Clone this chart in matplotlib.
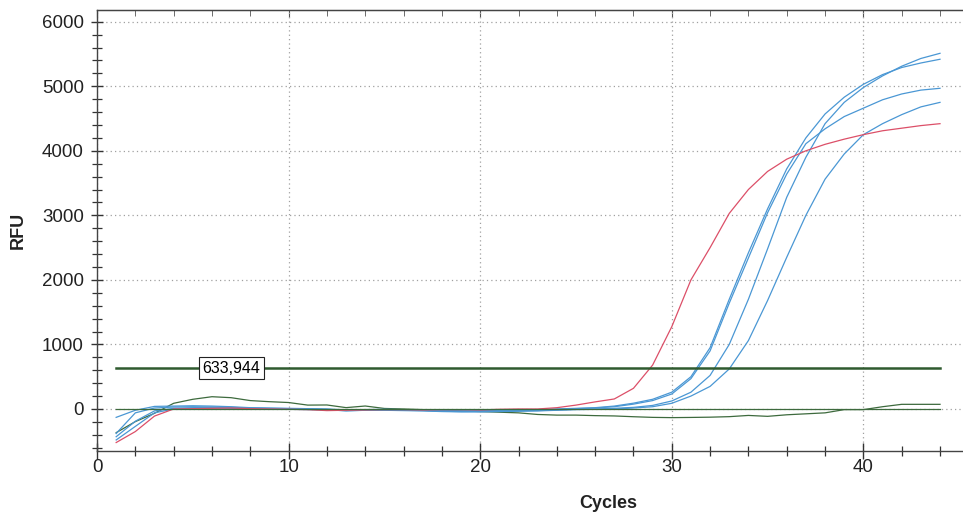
import matplotlib
matplotlib.use("Agg")
import matplotlib.pyplot as plt
from matplotlib.ticker import MultipleLocator

plt.rcParams['font.family'] = ['Liberation Sans', 'DejaVu Sans']

cycles = list(range(1, 45))

red = [-520, -350, -110, 0, 5, 10, 15, 5, 0, -5, -10, -25, -20, -15, -10, -10, -15, -10, -10, -15,
       -5, 0, 0, 20, 60, 110, 155, 320, 680, 1275, 2000, 2500, 3030, 3400, 3680, 3870, 4000, 4100,
       4180, 4250, 4310, 4350, 4390, 4420]

blue_a = [-130, -20, 40, 45, 50, 45, 35, 20, 15, 10, 5, 0, -15, -10, -5, -10, -15, -25, -30, -25,
          -20, -15, -10, 0, 10, 20, 45, 90, 150, 260, 500, 950, 1700, 2420, 3100, 3720, 4200, 4570,
          4830, 5030, 5180, 5290, 5360, 5418]

blue_b = [-380, -60, 15, 30, 35, 30, 25, 15, 10, 5, 0, -5, -20, -15, -10, -15, -20, -30, -35, -35,
          -30, -25, -15, -5, 5, 15, 35, 75, 130, 232, 470, 900, 1640, 2340, 3040, 3640, 4110, 4340,
          4530, 4660, 4790, 4880, 4940, 4968]

blue_c = [-430, -190, -30, 10, 20, 25, 20, 10, 5, 0, -5, -10, -30, -20, -15, -20, -25, -35, -40, -40,
          -35, -30, -25, -15, -5, 0, 10, 25, 55, 124, 260, 520, 1000, 1700, 2480, 3280, 3900, 4420,
          4750, 4980, 5160, 5310, 5430, 5510]

blue_d = [-480, -270, -60, 0, 10, 15, 10, 5, 0, -5, -10, -15, -25, -20, -20, -25, -30, -40, -45, -45,
          -40, -35, -30, -20, -10, -5, 0, 15, 35, 88, 200, 350, 620, 1060, 1680, 2350, 3000, 3560,
          3950, 4250, 4420, 4560, 4680, 4750]

green_a = [-367, -196, -67, 88, 150, 190, 175, 130, 113, 100, 60, 62, 21, 46, 8, 0, -10, -20, -30, -40,
           -50, -60, -85, -95, -95, -103, -108, -120, -130, -134, -131, -127, -119, -100, -114, -90,
           -75, -60, -10, -10, 35, 72, 72, 72]

green_b = [0, 0, 0, 0, 0, 0, 0, 0, 0, 0, 0, 0, 0, 0, 0, 0, 0, 0, 0, 0, 0, 0,
           0, 0, 0, 0, 0, 0, 0, 0, 0, 0, 0, 0, 0, 0, 0, 0, 0, 0, 0, 0, 0, 0]

threshold = 633.944
threshold_label = "633,944"

BLUE = '#4a97d4'
RED = '#dc4f68'
GREEN = '#3d6a3d'

fig = plt.figure(figsize=(9.63, 5.15), dpi=100)
ax = fig.add_axes([97/963, 64/515, 866/963, 441/515])

ax.set_xlim(0, 45.2)
ax.set_ylim(-651, 6181)

ax.grid(True, which='major', linestyle=(0, (1, 2.5)), color='#a0a0a0', linewidth=0.9)
ax.set_axisbelow(True)

ax.plot(cycles, green_a, color=GREEN, lw=0.9)
for s in (blue_d, blue_c, blue_b, blue_a):
    ax.plot(cycles, s, color=BLUE, lw=0.9)
ax.plot(cycles, red, color=RED, lw=0.9)
ax.plot(cycles, green_b, color=GREEN, lw=0.9)

ax.plot([cycles[0], cycles[-1]], [threshold, threshold], color='#2f5a2f', lw=1.8)
ax.text(7.0, threshold, threshold_label, ha='center', va='center', fontsize=11.5,
        bbox=dict(boxstyle='square,pad=0.22', fc='white', ec='#222222', lw=0.8))

ax.xaxis.set_major_locator(MultipleLocator(10))
ax.xaxis.set_minor_locator(MultipleLocator(2))
ax.yaxis.set_major_locator(MultipleLocator(1000))
ax.yaxis.set_minor_locator(MultipleLocator(200))

ax.tick_params(axis='both', which='both', direction='inout', colors='#333333', labelcolor='#222222',
               labelsize=13.5)
ax.tick_params(axis='x', which='major', length=12, width=1.0, pad=0)
ax.tick_params(axis='x', which='minor', length=7, width=0.9)
ax.tick_params(axis='y', which='major', length=9, width=1.0, pad=5)
ax.tick_params(axis='y', which='minor', length=7, width=0.9)

ax.spines['right'].set_visible(False)
for side in ('left', 'bottom', 'top'):
    ax.spines[side].set_color('#444444')
    ax.spines[side].set_linewidth(1.0)

top = ax.secondary_xaxis('top')
top.xaxis.set_major_locator(MultipleLocator(10))
top.xaxis.set_minor_locator(MultipleLocator(2))
top.tick_params(axis='x', which='both', direction='in', labeltop=False, colors='#555555')
top.tick_params(axis='x', which='major', length=5)
top.tick_params(axis='x', which='minor', length=4)
top.spines['top'].set_color('#555555')

fig.text(18/963, 1 - 230/515, 'RFU', rotation=90, ha='center', va='center',
         fontsize=13, fontweight='bold', color='#222222')
fig.text(608/963, 1 - 503/515, 'Cycles', ha='center', va='center',
         fontsize=13, fontweight='bold', color='#222222')

fig.savefig('out.png', dpi=100)
